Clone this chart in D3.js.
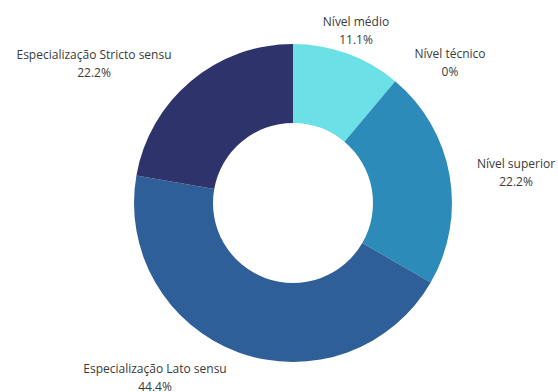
<!DOCTYPE html>
<html>
<head>
<meta charset="utf-8">
<script src="https://cdn.jsdelivr.net/npm/d3@7"></script>
<style>
  html, body { margin: 0; padding: 0; background: #fff; }
  svg { display: block; }
  text { font-family: "Open Sans", sans-serif; font-size: 12px; fill: #3a3a3a; }
</style>
</head>
<body>
<svg id="chart" width="558" height="392"></svg>
<script>
// Education level of respondents (share of 9 answers)
const categories = ["Nível médio", "Nível técnico", "Nível superior", "Especialização Lato sensu", "Especialização Stricto sensu"];
const counts = [1, 0, 2, 4, 2];
const percentLabels = ["11.1%", "0%", "22.2%", "44.4%", "22.2%"];
const colors = ["#6be0e6", "#2b6fa8", "#2d8bba", "#2e5f98", "#2e336b"];

// Label block centres (x, baseline of first line), placed outside the ring
const labelAnchors = [[356, 26], [450, 58], [516, 168], [155, 373], [94, 59]];

const width = 558, height = 392;
const cx = 293, cy = 203;
const outerR = 159, innerR = 80;

const svg = d3.select("#chart");
const g = svg.append("g").attr("transform", `translate(${cx},${cy})`);

const pie = d3.pie().sort(null).value(d => d.value);
const arc = d3.arc().innerRadius(innerR).outerRadius(outerR);

const data = categories.map((c, i) => ({ name: c, value: counts[i], pct: percentLabels[i], color: colors[i] }));

g.selectAll("path.slice")
  .data(pie(data))
  .join("path")
  .attr("class", "slice")
  .attr("d", arc)
  .attr("fill", d => d.data.color);

const labels = svg.selectAll("g.label")
  .data(data)
  .join("g")
  .attr("class", "label")
  .attr("transform", (d, i) => `translate(${labelAnchors[i][0]},${labelAnchors[i][1]})`);

labels.append("text")
  .attr("text-anchor", "middle")
  .text(d => d.name);

labels.append("text")
  .attr("text-anchor", "middle")
  .attr("y", 17.5)
  .text(d => d.pct);
</script>
</body>
</html>
